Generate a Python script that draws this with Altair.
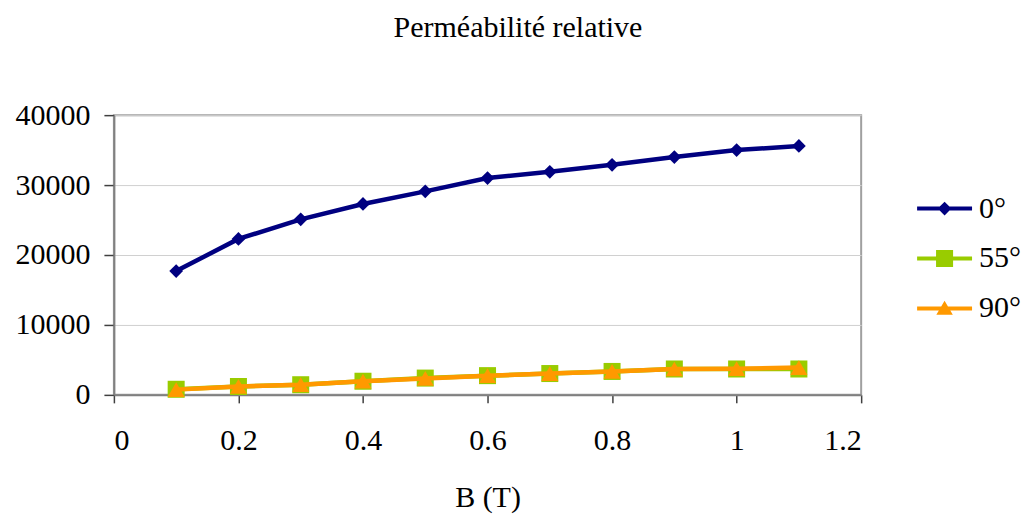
import altair as alt
import pandas as pd

b_values = [0.1, 0.2, 0.3, 0.4, 0.5, 0.6, 0.7, 0.8, 0.9, 1.0, 1.1]
series_names = ["0°", "55°", "90°"]
mu_0 = [17700, 22300, 25100, 27300, 29100, 31000, 31900, 32900, 34000, 35000, 35600]
mu_55 = [800, 1200, 1450, 1950, 2400, 2750, 3050, 3350, 3700, 3700, 3700]
mu_90 = [750, 1200, 1450, 1950, 2350, 2750, 3050, 3350, 3700, 3750, 3900]
series_colors = ["#000080", "#99CC00", "#FF9900"]
x_ticks = [0, 0.2, 0.4, 0.6, 0.8, 1.0, 1.2]
y_ticks = [0, 10000, 20000, 30000, 40000]

rows = []
for name, vals in zip(series_names, [mu_0, mu_55, mu_90]):
    for b, v in zip(b_values, vals):
        rows.append({"B": b, "mu": v, "serie": name})
df = pd.DataFrame(rows)

FONT = "Liberation Serif"

x_enc = alt.X("B:Q", scale=alt.Scale(domain=[0, 1.2], nice=False),
              axis=alt.Axis(values=x_ticks, format="~g", title="B (T)", grid=False,
                            tickSize=8, labelPadding=23, titlePadding=27))
y_enc = alt.Y("mu:Q", scale=alt.Scale(domain=[0, 40000], nice=False),
              axis=alt.Axis(values=y_ticks, format="d", title=None, grid=True,
                            tickSize=10, labelPadding=14))

base = alt.Chart(df)

styles = {"0°": ("diamond", 190, 4.5), "55°": ("square", 290, 4.5), "90°": ("triangle-up", 290, 4.5)}
layers = []
for name in ["55°", "90°", "0°"]:
    shp, sz, sw = styles[name]
    col = series_colors[series_names.index(name)]
    sub = base.transform_filter(alt.datum.serie == name)
    layers.append(sub.mark_line(strokeWidth=sw, color=col).encode(x=x_enc, y=y_enc))
    layers.append(sub.mark_point(shape=shp, size=sz, filled=True, opacity=1, color=col,
                                 strokeWidth=0).encode(x=x_enc, y=y_enc))

bar = "M-1,-0.075H1V0.075H-1Z"
leg_paths = [
    bar + "M0,-0.25L0.25,0L0,0.25L-0.25,0Z",
    bar + "M-0.31,-0.31H0.31V0.31H-0.31Z",
    bar + "M0,-0.28L0.3,0.23H-0.3Z",
]
leg = alt.Legend(title=None, orient="none", legendX=804, legendY=66, padding=0,
                 symbolSize=3025, symbolOpacity=1, labelFontSize=30,
                 labelFont=FONT, labelColor="#000", rowPadding=7,
                 labelOffset=7, symbolStrokeWidth=0)
legend_layer = base.transform_filter("false").mark_point(filled=True).encode(
    x=x_enc, y=y_enc,
    color=alt.Color("serie:N", scale=alt.Scale(domain=series_names, range=series_colors),
                    legend=leg),
    shape=alt.Shape("serie:N", scale=alt.Scale(domain=series_names, range=leg_paths),
                    legend=leg),
)

chart = alt.layer(*layers, legend_layer).properties(
    width=748, height=280, background="white",
    padding={"left": 7, "top": 5, "right": 0, "bottom": 5},
    title=alt.Title("Perméabilité relative", font=FONT, fontSize=30, fontWeight="normal",
                    color="#000", frame="bounds", anchor="middle", offset=57),
).configure_view(stroke="#a0a0a0", strokeWidth=2).configure_axis(
    labelFont=FONT, labelFontSize=30, labelColor="#000", titleFont=FONT, titleFontSize=30,
    titleFontWeight="normal", titleColor="#000", domainColor="#808080", domainWidth=2,
    tickColor="#404040", tickWidth=1.5, gridColor="#d0d0d0", gridWidth=1,
)

chart.save("out.html", embed_options={"renderer": "svg", "actions": False})
